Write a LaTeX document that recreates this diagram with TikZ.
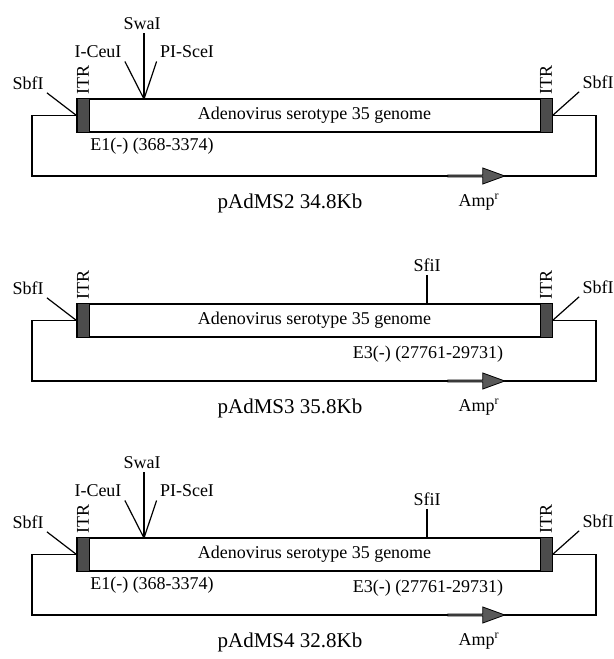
\documentclass[tikz,border=0pt]{standalone}
\usepackage{fontspec}
\setmainfont{Liberation Serif}
\usetikzlibrary{shapes.arrows}

\begin{document}
\begin{tikzpicture}[x=0.5pt, y=-0.5pt,
    genome/.style={rectangle, draw, line width=1pt, fill=white, minimum width=237.5pt, minimum height=16.5pt, inner sep=0pt, font=\fontsize{9}{10}\selectfont},
    itr/.style={rectangle, draw, line width=0.5pt, fill=black!70, minimum width=6pt, minimum height=17pt, inner sep=0pt},
    wire/.style={line width=0.8pt},
    cutline/.style={line width=0.6pt},
    site/.style={font=\fontsize{9}{10}\selectfont, inner sep=1.5pt},
    amp/.style={single arrow, draw, line width=0.4pt, fill=black!65, minimum width=8pt, minimum height=28.5pt, single arrow head extend=1.5pt, single arrow tip angle=40, inner sep=0pt}]

    \useasboundingbox (0,0) rectangle (614,659);

    % backbone of each plasmid
    \foreach \i/\y/\name in {1/99/pAdMS2 34.8Kb, 2/304/pAdMS3 35.8Kb, 3/538/pAdMS4 32.8Kb} {
        \node[genome] (g\i) at (314.5,\y+16.5) {Adenovirus serotype 35 genome};
        \node[itr] (l\i) at (83,\y+16.5) {};
        \node[itr] (r\i) at (546,\y+16.5) {};
        \node[site, rotate=90, anchor=west] (tl\i) at (l\i.north) {ITR};
        \node[site, rotate=90, anchor=west] (tr\i) at (r\i.north) {ITR};

        \coordinate (bl\i) at (32,\y+77);
        \coordinate (br\i) at (596,\y+77);
        \draw[wire] (l\i.west) -| (bl\i) -- (br\i) |- (r\i.east);
        \node[amp] (a\i) at (475,\y+77) {};
        \node[site] (am\i) at (479,\y+103) {Amp\textsuperscript{r}};
        \node[font=\fontsize{10.5}{12}\selectfont] (n\i) at (290,\y+104) {\name};

        \node[site] (sl\i) at (28,\y-16) {SbfI};
        \node[site] (sr\i) at (598,\y-17) {SbfI};
        \draw[cutline] (sl\i.south east) -- (l\i.west);
        \draw[cutline] (sr\i.south west) -- (r\i.east);
    }

    % E1 deletion sites
    \foreach \i/\y in {1/99, 3/538} {
        \coordinate (cut\i) at (144,\y);
        \node[site] (sw\i) at (142,\y-75) {SwaI};
        \node[site] (ce\i) at (98,\y-47) {I-CeuI};
        \node[site] (ps\i) at (187,\y-47) {PI-SceI};
        \draw[cutline] (sw\i.south -| cut\i) -- (cut\i);
        \draw[cutline] (ce\i.south east) -- (cut\i);
        \draw[cutline] (ps\i.south west) -- (cut\i);
        \node[site] (ea\i) at (152,\y+47) {E1(-) (368-3374)};
    }

    % E3 deletion sites
    \foreach \i/\y in {2/304, 3/538} {
        \node[site] (sf\i) at (427,\y-39) {SfiI};
        \draw[cutline] (sf\i) -- (sf\i |- g\i.north);
        \node[site] (eb\i) at (428,\y+50) {E3(-) (27761-29731)};
    }
\end{tikzpicture}
\end{document}
